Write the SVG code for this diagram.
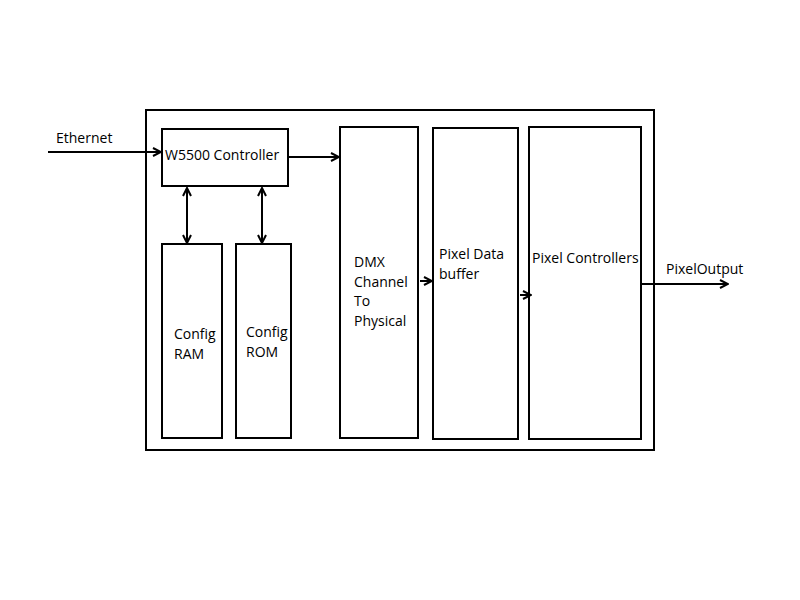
<svg xmlns="http://www.w3.org/2000/svg" width="800" height="600" viewBox="0 0 800 600">
<style>
.box{fill:#fff;stroke:#000;stroke-width:2}
.t{font-family:"Open Sans","Liberation Sans",sans-serif;font-size:14px;fill:#000}
.c{stroke:#000;stroke-width:2;fill:none}
</style>
<defs>
<marker id="ah" viewBox="0 0 10 10" refX="9" refY="5" markerWidth="10" markerHeight="10" markerUnits="userSpaceOnUse" orient="auto-start-reverse">
<path d="M1,1 L9,5 L1,9" fill="none" stroke="#000" stroke-width="2"/>
</marker>
</defs>
<rect width="800" height="600" fill="#fff"/>
<g id="system"><rect class="box" x="146" y="110" width="508" height="340"/></g>
<g id="w5500"><rect class="box" x="162" y="129" width="126" height="57"/><text class="t" x="165" y="160">W5500 Controller</text></g>
<g id="configram"><rect class="box" x="162" y="244" width="60" height="194"/><text class="t" x="174" y="339">Config</text><text class="t" x="174" y="359">RAM</text></g>
<g id="configrom"><rect class="box" x="236" y="244" width="55" height="194"/><text class="t" x="246" y="337">Config</text><text class="t" x="246" y="357">ROM</text></g>
<g id="dmx"><rect class="box" x="340" y="127" width="78" height="311"/><text class="t" x="354" y="267">DMX</text><text class="t" x="354" y="287">Channel</text><text class="t" x="354" y="306">To</text><text class="t" x="354" y="326">Physical</text></g>
<g id="buffer"><rect class="box" x="433" y="128" width="85" height="311"/><text class="t" x="439" y="259">Pixel Data</text><text class="t" x="439" y="279">buffer</text></g>
<g id="controllers"><rect class="box" x="529" y="127" width="112" height="312"/><text class="t" x="532" y="263">Pixel Controllers</text></g>
<g id="connectors">
<line class="c" x1="48" y1="152" x2="161" y2="152" marker-end="url(#ah)"/>
<line class="c" x1="289" y1="157" x2="339" y2="157" marker-end="url(#ah)"/>
<line class="c" x1="187" y1="188" x2="187" y2="243" marker-start="url(#ah)" marker-end="url(#ah)"/>
<line class="c" x1="262" y1="188" x2="262" y2="243" marker-start="url(#ah)" marker-end="url(#ah)"/>
<line class="c" x1="420" y1="281" x2="432" y2="281" marker-end="url(#ah)"/>
<line class="c" x1="520" y1="295" x2="531" y2="295" marker-end="url(#ah)"/>
<line class="c" x1="642" y1="284" x2="728" y2="284" marker-end="url(#ah)"/>
<text class="t" x="56" y="143">Ethernet</text>
<text class="t" x="666" y="274">PixelOutput</text>
</g>
</svg>
